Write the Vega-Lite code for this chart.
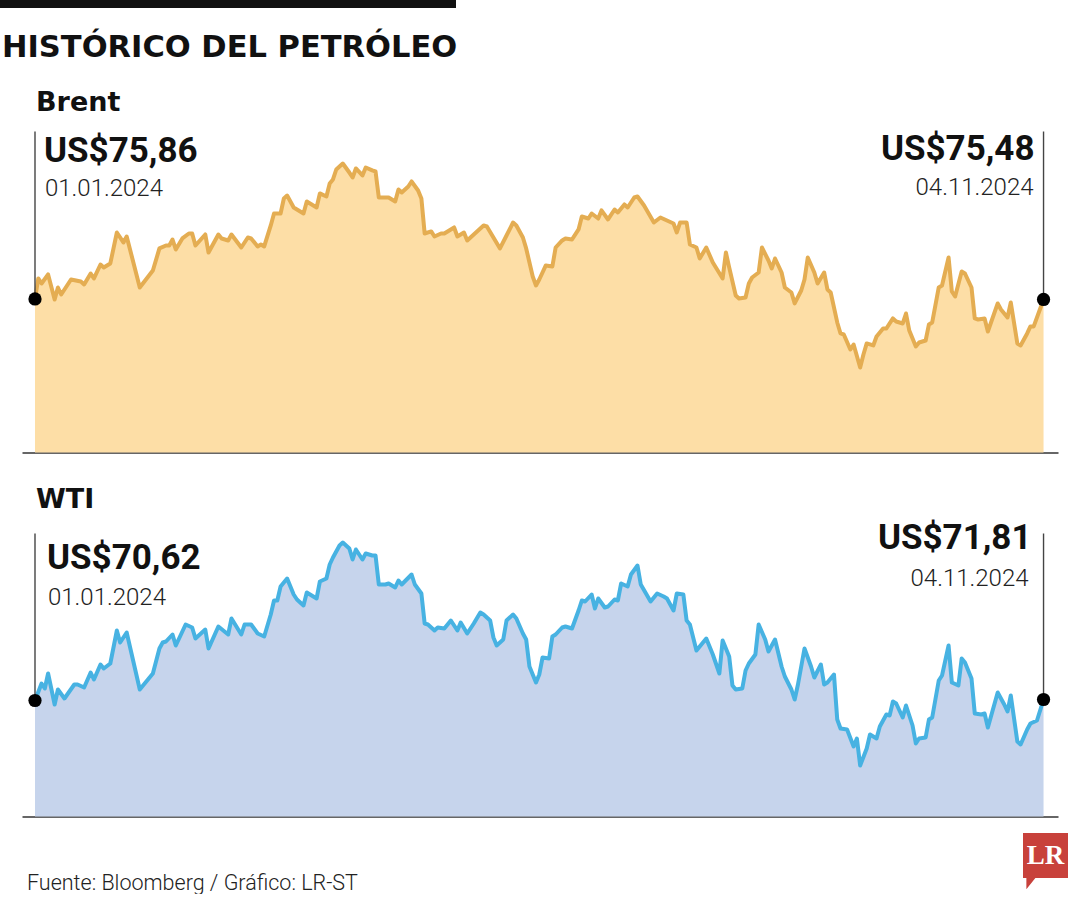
{
"$schema": "https://vega.github.io/schema/vega-lite/v6.json",
"padding": 0,
"background": "white",
"config": {"view": {"stroke": null}, "font": "Roboto"},
"datasets": {
"brent": [
{"fecha":"2024-01-01","precio":75.86},{"fecha":"2024-01-02","precio":78.02},{"fecha":"2024-01-03","precio":77.49},{"fecha":"2024-01-05","precio":78.44},{"fecha":"2024-01-07","precio":75.81},{"fecha":"2024-01-08","precio":77.07},{"fecha":"2024-01-09","precio":76.33},{"fecha":"2024-01-12","precio":77.91},{"fecha":"2024-01-15","precio":77.70},{"fecha":"2024-01-16","precio":77.39},{"fecha":"2024-01-18","precio":78.54},{"fecha":"2024-01-19","precio":78.02},{"fecha":"2024-01-21","precio":79.49},{"fecha":"2024-01-22","precio":79.18},{"fecha":"2024-01-24","precio":79.60},{"fecha":"2024-01-26","precio":82.86},{"fecha":"2024-01-28","precio":81.81},{"fecha":"2024-01-29","precio":82.44},
{"fecha":"2024-02-02","precio":77.07},{"fecha":"2024-02-06","precio":78.86},{"fecha":"2024-02-08","precio":81.18},{"fecha":"2024-02-10","precio":81.49},{"fecha":"2024-02-11","precio":81.49},{"fecha":"2024-02-12","precio":82.12},{"fecha":"2024-02-13","precio":81.07},{"fecha":"2024-02-15","precio":82.23},{"fecha":"2024-02-17","precio":82.75},{"fecha":"2024-02-18","precio":82.75},{"fecha":"2024-02-19","precio":81.49},{"fecha":"2024-02-22","precio":82.65},{"fecha":"2024-02-23","precio":80.75},{"fecha":"2024-02-26","precio":82.65},{"fecha":"2024-02-27","precio":82.23},{"fecha":"2024-02-29","precio":82.02},
{"fecha":"2024-03-01","precio":82.65},{"fecha":"2024-03-04","precio":81.28},{"fecha":"2024-03-06","precio":82.33},{"fecha":"2024-03-07","precio":82.23},{"fecha":"2024-03-09","precio":81.39},{"fecha":"2024-03-10","precio":81.60},{"fecha":"2024-03-11","precio":81.39},{"fecha":"2024-03-13","precio":83.60},{"fecha":"2024-03-14","precio":84.86},{"fecha":"2024-03-16","precio":84.86},{"fecha":"2024-03-17","precio":86.44},{"fecha":"2024-03-18","precio":86.75},{"fecha":"2024-03-20","precio":85.49},{"fecha":"2024-03-21","precio":85.28},{"fecha":"2024-03-23","precio":84.86},{"fecha":"2024-03-24","precio":86.12},{"fecha":"2024-03-27","precio":85.49},{"fecha":"2024-03-28","precio":86.97},{"fecha":"2024-03-30","precio":86.65},{"fecha":"2024-03-31","precio":88.02},
{"fecha":"2024-04-01","precio":88.44},{"fecha":"2024-04-02","precio":89.49},{"fecha":"2024-04-04","precio":90.12},{"fecha":"2024-04-06","precio":89.17},{"fecha":"2024-04-07","precio":88.65},{"fecha":"2024-04-08","precio":89.60},{"fecha":"2024-04-10","precio":88.86},{"fecha":"2024-04-11","precio":89.70},{"fecha":"2024-04-13","precio":89.39},{"fecha":"2024-04-14","precio":89.28},{"fecha":"2024-04-15","precio":86.54},{"fecha":"2024-04-17","precio":86.54},{"fecha":"2024-04-18","precio":86.54},{"fecha":"2024-04-20","precio":86.12},{"fecha":"2024-04-21","precio":87.39},{"fecha":"2024-04-22","precio":87.07},{"fecha":"2024-04-24","precio":87.70},{"fecha":"2024-04-25","precio":88.23},{"fecha":"2024-04-27","precio":87.28},{"fecha":"2024-04-28","precio":86.44},{"fecha":"2024-04-29","precio":82.75},
{"fecha":"2024-05-01","precio":82.97},{"fecha":"2024-05-02","precio":82.44},{"fecha":"2024-05-04","precio":82.75},{"fecha":"2024-05-05","precio":82.75},{"fecha":"2024-05-08","precio":83.39},{"fecha":"2024-05-09","precio":82.44},{"fecha":"2024-05-11","precio":82.86},{"fecha":"2024-05-12","precio":82.02},{"fecha":"2024-05-14","precio":82.65},{"fecha":"2024-05-17","precio":83.60},{"fecha":"2024-05-18","precio":83.49},{"fecha":"2024-05-20","precio":82.33},{"fecha":"2024-05-22","precio":81.18},{"fecha":"2024-05-24","precio":82.54},{"fecha":"2024-05-26","precio":83.91},{"fecha":"2024-05-27","precio":83.60},{"fecha":"2024-05-29","precio":82.33},{"fecha":"2024-05-30","precio":81.18},
{"fecha":"2024-06-01","precio":78.23},{"fecha":"2024-06-02","precio":77.28},{"fecha":"2024-06-03","precio":77.91},{"fecha":"2024-06-05","precio":79.39},{"fecha":"2024-06-07","precio":79.28},{"fecha":"2024-06-08","precio":81.28},{"fecha":"2024-06-10","precio":82.02},{"fecha":"2024-06-11","precio":82.23},{"fecha":"2024-06-13","precio":82.12},{"fecha":"2024-06-15","precio":83.18},{"fecha":"2024-06-16","precio":84.54},{"fecha":"2024-06-18","precio":84.33},{"fecha":"2024-06-19","precio":84.86},{"fecha":"2024-06-21","precio":84.33},{"fecha":"2024-06-22","precio":85.18},{"fecha":"2024-06-24","precio":84.23},{"fecha":"2024-06-26","precio":85.28},{"fecha":"2024-06-27","precio":84.97},{"fecha":"2024-06-29","precio":85.81},{"fecha":"2024-06-30","precio":85.49},
{"fecha":"2024-07-02","precio":86.54},{"fecha":"2024-07-03","precio":86.65},{"fecha":"2024-07-05","precio":85.70},{"fecha":"2024-07-08","precio":83.91},{"fecha":"2024-07-10","precio":84.44},{"fecha":"2024-07-12","precio":84.12},{"fecha":"2024-07-14","precio":83.81},{"fecha":"2024-07-15","precio":82.86},{"fecha":"2024-07-16","precio":83.91},{"fecha":"2024-07-18","precio":83.91},{"fecha":"2024-07-19","precio":81.60},{"fecha":"2024-07-21","precio":81.28},{"fecha":"2024-07-22","precio":80.12},{"fecha":"2024-07-24","precio":81.28},{"fecha":"2024-07-26","precio":79.70},{"fecha":"2024-07-29","precio":78.02},{"fecha":"2024-07-30","precio":80.75},{"fecha":"2024-07-31","precio":79.18},
{"fecha":"2024-08-02","precio":76.23},{"fecha":"2024-08-03","precio":75.91},{"fecha":"2024-08-05","precio":76.02},{"fecha":"2024-08-06","precio":77.49},{"fecha":"2024-08-07","precio":78.12},{"fecha":"2024-08-09","precio":78.65},{"fecha":"2024-08-10","precio":81.28},{"fecha":"2024-08-12","precio":79.91},{"fecha":"2024-08-13","precio":79.07},{"fecha":"2024-08-14","precio":80.12},{"fecha":"2024-08-16","precio":78.65},{"fecha":"2024-08-17","precio":77.07},{"fecha":"2024-08-19","precio":76.54},{"fecha":"2024-08-20","precio":75.39},{"fecha":"2024-08-22","precio":76.75},{"fecha":"2024-08-23","precio":77.91},{"fecha":"2024-08-24","precio":80.23},{"fecha":"2024-08-26","precio":78.65},{"fecha":"2024-08-27","precio":77.49},{"fecha":"2024-08-29","precio":78.65},{"fecha":"2024-08-30","precio":76.86},{"fecha":"2024-08-31","precio":76.54},
{"fecha":"2024-09-02","precio":73.39},{"fecha":"2024-09-03","precio":72.23},{"fecha":"2024-09-04","precio":72.12},{"fecha":"2024-09-06","precio":70.54},{"fecha":"2024-09-07","precio":71.07},{"fecha":"2024-09-09","precio":68.65},{"fecha":"2024-09-10","precio":70.02},{"fecha":"2024-09-11","precio":71.18},{"fecha":"2024-09-13","precio":70.97},{"fecha":"2024-09-14","precio":71.91},{"fecha":"2024-09-16","precio":72.75},{"fecha":"2024-09-17","precio":72.75},{"fecha":"2024-09-19","precio":73.81},{"fecha":"2024-09-20","precio":73.49},{"fecha":"2024-09-22","precio":73.28},{"fecha":"2024-09-23","precio":74.33},{"fecha":"2024-09-24","precio":72.54},{"fecha":"2024-09-26","precio":70.86},{"fecha":"2024-09-27","precio":71.28},{"fecha":"2024-09-29","precio":71.49},{"fecha":"2024-09-30","precio":73.18},
{"fecha":"2024-10-01","precio":73.39},{"fecha":"2024-10-03","precio":77.07},{"fecha":"2024-10-04","precio":77.28},{"fecha":"2024-10-06","precio":80.23},{"fecha":"2024-10-07","precio":76.65},{"fecha":"2024-10-08","precio":76.12},{"fecha":"2024-10-10","precio":78.75},{"fecha":"2024-10-11","precio":78.54},{"fecha":"2024-10-13","precio":77.07},{"fecha":"2024-10-14","precio":73.81},{"fecha":"2024-10-15","precio":73.70},{"fecha":"2024-10-17","precio":73.81},{"fecha":"2024-10-18","precio":72.44},{"fecha":"2024-10-21","precio":75.39},{"fecha":"2024-10-22","precio":74.75},{"fecha":"2024-10-24","precio":73.91},{"fecha":"2024-10-25","precio":75.49},{"fecha":"2024-10-27","precio":71.18},{"fecha":"2024-10-28","precio":70.97},{"fecha":"2024-10-30","precio":72.23},{"fecha":"2024-10-31","precio":72.97},{"fecha":"2024-11-01","precio":72.97},{"fecha":"2024-11-04","precio":75.81}
],
"wti": [
{"fecha":"2024-01-01","precio":70.57},{"fecha":"2024-01-03","precio":72.27},{"fecha":"2024-01-04","precio":71.77},{"fecha":"2024-01-05","precio":73.27},{"fecha":"2024-01-07","precio":70.17},{"fecha":"2024-01-08","precio":71.67},{"fecha":"2024-01-10","precio":70.77},{"fecha":"2024-01-13","precio":72.17},{"fecha":"2024-01-14","precio":72.17},{"fecha":"2024-01-16","precio":71.87},{"fecha":"2024-01-18","precio":73.37},{"fecha":"2024-01-19","precio":72.67},{"fecha":"2024-01-21","precio":74.17},{"fecha":"2024-01-22","precio":73.77},{"fecha":"2024-01-24","precio":74.27},{"fecha":"2024-01-26","precio":77.57},{"fecha":"2024-01-27","precio":76.37},{"fecha":"2024-01-29","precio":77.37},
{"fecha":"2024-02-02","precio":71.67},{"fecha":"2024-02-06","precio":73.27},{"fecha":"2024-02-08","precio":75.77},{"fecha":"2024-02-09","precio":76.37},{"fecha":"2024-02-10","precio":76.47},{"fecha":"2024-02-12","precio":77.17},{"fecha":"2024-02-13","precio":76.07},{"fecha":"2024-02-16","precio":78.17},{"fecha":"2024-02-18","precio":77.87},{"fecha":"2024-02-19","precio":76.77},{"fecha":"2024-02-22","precio":77.67},{"fecha":"2024-02-23","precio":75.77},{"fecha":"2024-02-26","precio":77.97},{"fecha":"2024-02-29","precio":77.17},
{"fecha":"2024-03-01","precio":78.77},{"fecha":"2024-03-04","precio":77.17},{"fecha":"2024-03-05","precio":78.17},{"fecha":"2024-03-07","precio":78.17},{"fecha":"2024-03-09","precio":77.27},{"fecha":"2024-03-11","precio":76.97},{"fecha":"2024-03-13","precio":79.17},{"fecha":"2024-03-14","precio":80.57},{"fecha":"2024-03-15","precio":80.57},{"fecha":"2024-03-16","precio":81.97},{"fecha":"2024-03-18","precio":82.77},{"fecha":"2024-03-20","precio":81.17},{"fecha":"2024-03-21","precio":80.67},{"fecha":"2024-03-23","precio":80.07},{"fecha":"2024-03-24","precio":81.37},{"fecha":"2024-03-27","precio":80.77},{"fecha":"2024-03-28","precio":82.47},{"fecha":"2024-03-30","precio":82.77},{"fecha":"2024-03-31","precio":84.17},
{"fecha":"2024-04-01","precio":84.87},{"fecha":"2024-04-03","precio":86.07},{"fecha":"2024-04-04","precio":86.37},{"fecha":"2024-04-06","precio":85.77},{"fecha":"2024-04-07","precio":84.67},{"fecha":"2024-04-08","precio":85.67},{"fecha":"2024-04-10","precio":84.67},{"fecha":"2024-04-11","precio":85.27},{"fecha":"2024-04-13","precio":85.07},{"fecha":"2024-04-14","precio":85.07},{"fecha":"2024-04-15","precio":82.17},{"fecha":"2024-04-17","precio":82.17},{"fecha":"2024-04-18","precio":82.27},{"fecha":"2024-04-20","precio":81.87},{"fecha":"2024-04-21","precio":82.57},{"fecha":"2024-04-22","precio":82.17},{"fecha":"2024-04-25","precio":83.17},{"fecha":"2024-04-26","precio":82.17},{"fecha":"2024-04-28","precio":81.27},{"fecha":"2024-04-29","precio":78.27},{"fecha":"2024-04-30","precio":78.17},
{"fecha":"2024-05-02","precio":77.57},{"fecha":"2024-05-03","precio":77.87},{"fecha":"2024-05-05","precio":77.77},{"fecha":"2024-05-06","precio":78.17},{"fecha":"2024-05-07","precio":78.57},{"fecha":"2024-05-09","precio":77.57},{"fecha":"2024-05-10","precio":78.37},{"fecha":"2024-05-12","precio":77.27},{"fecha":"2024-05-14","precio":78.27},{"fecha":"2024-05-16","precio":79.37},{"fecha":"2024-05-17","precio":79.17},{"fecha":"2024-05-19","precio":78.57},{"fecha":"2024-05-20","precio":76.87},{"fecha":"2024-05-21","precio":76.07},{"fecha":"2024-05-23","precio":76.67},{"fecha":"2024-05-24","precio":78.57},{"fecha":"2024-05-26","precio":79.17},{"fecha":"2024-05-27","precio":78.77},{"fecha":"2024-05-29","precio":77.27},{"fecha":"2024-05-30","precio":76.67},{"fecha":"2024-05-31","precio":73.97},
{"fecha":"2024-06-02","precio":72.37},{"fecha":"2024-06-03","precio":73.17},{"fecha":"2024-06-04","precio":74.87},{"fecha":"2024-06-06","precio":74.77},{"fecha":"2024-06-07","precio":76.97},{"fecha":"2024-06-08","precio":77.17},{"fecha":"2024-06-10","precio":77.87},{"fecha":"2024-06-11","precio":77.97},{"fecha":"2024-06-13","precio":77.77},{"fecha":"2024-06-15","precio":79.57},{"fecha":"2024-06-16","precio":80.57},{"fecha":"2024-06-17","precio":80.47},{"fecha":"2024-06-19","precio":81.17},{"fecha":"2024-06-20","precio":79.77},{"fecha":"2024-06-21","precio":80.77},{"fecha":"2024-06-23","precio":79.87},{"fecha":"2024-06-24","precio":79.97},{"fecha":"2024-06-26","precio":80.67},{"fecha":"2024-06-27","precio":80.57},{"fecha":"2024-06-28","precio":82.27},{"fecha":"2024-06-30","precio":81.97},
{"fecha":"2024-07-01","precio":83.17},{"fecha":"2024-07-03","precio":84.07},{"fecha":"2024-07-04","precio":82.17},{"fecha":"2024-07-07","precio":80.47},{"fecha":"2024-07-09","precio":81.27},{"fecha":"2024-07-11","precio":80.97},{"fecha":"2024-07-12","precio":80.77},{"fecha":"2024-07-14","precio":79.57},{"fecha":"2024-07-15","precio":81.27},{"fecha":"2024-07-17","precio":81.17},{"fecha":"2024-07-18","precio":78.57},{"fecha":"2024-07-19","precio":78.17},{"fecha":"2024-07-21","precio":75.57},{"fecha":"2024-07-24","precio":76.77},{"fecha":"2024-07-26","precio":75.17},{"fecha":"2024-07-28","precio":73.27},{"fecha":"2024-07-29","precio":76.57},{"fecha":"2024-07-31","precio":74.97},
{"fecha":"2024-08-01","precio":72.07},{"fecha":"2024-08-02","precio":71.67},{"fecha":"2024-08-04","precio":71.77},{"fecha":"2024-08-05","precio":73.57},{"fecha":"2024-08-06","precio":74.27},{"fecha":"2024-08-08","precio":75.17},{"fecha":"2024-08-09","precio":78.17},{"fecha":"2024-08-11","precio":76.67},{"fecha":"2024-08-12","precio":75.47},{"fecha":"2024-08-14","precio":76.67},{"fecha":"2024-08-16","precio":73.97},{"fecha":"2024-08-17","precio":72.97},{"fecha":"2024-08-19","precio":71.67},{"fecha":"2024-08-20","precio":70.67},{"fecha":"2024-08-21","precio":72.17},{"fecha":"2024-08-23","precio":75.77},{"fecha":"2024-08-25","precio":73.97},{"fecha":"2024-08-26","precio":72.87},{"fecha":"2024-08-28","precio":74.17},{"fecha":"2024-08-29","precio":72.17},{"fecha":"2024-08-30","precio":72.37},
{"fecha":"2024-09-01","precio":73.17},{"fecha":"2024-09-02","precio":68.67},{"fecha":"2024-09-03","precio":67.77},{"fecha":"2024-09-05","precio":67.67},{"fecha":"2024-09-07","precio":65.97},{"fecha":"2024-09-08","precio":66.77},{"fecha":"2024-09-09","precio":64.07},{"fecha":"2024-09-11","precio":65.77},{"fecha":"2024-09-12","precio":67.17},{"fecha":"2024-09-14","precio":66.77},{"fecha":"2024-09-15","precio":67.97},{"fecha":"2024-09-17","precio":69.17},{"fecha":"2024-09-18","precio":69.07},{"fecha":"2024-09-19","precio":70.47},{"fecha":"2024-09-20","precio":70.27},{"fecha":"2024-09-22","precio":68.87},{"fecha":"2024-09-23","precio":70.07},{"fecha":"2024-09-25","precio":68.07},{"fecha":"2024-09-26","precio":66.27},{"fecha":"2024-09-27","precio":66.77},{"fecha":"2024-09-29","precio":66.87},{"fecha":"2024-09-30","precio":68.67},
{"fecha":"2024-10-01","precio":68.87},{"fecha":"2024-10-03","precio":72.57},{"fecha":"2024-10-04","precio":73.07},{"fecha":"2024-10-06","precio":76.07},{"fecha":"2024-10-07","precio":72.37},{"fecha":"2024-10-09","precio":72.07},{"fecha":"2024-10-10","precio":74.77},{"fecha":"2024-10-11","precio":74.37},{"fecha":"2024-10-13","precio":72.77},{"fecha":"2024-10-14","precio":69.27},{"fecha":"2024-10-16","precio":69.17},{"fecha":"2024-10-17","precio":69.27},{"fecha":"2024-10-18","precio":67.87},{"fecha":"2024-10-21","precio":71.37},{"fecha":"2024-10-23","precio":70.17},{"fecha":"2024-10-24","precio":69.47},{"fecha":"2024-10-25","precio":71.07},{"fecha":"2024-10-27","precio":66.47},{"fecha":"2024-10-28","precio":66.17},{"fecha":"2024-10-30","precio":67.67},{"fecha":"2024-10-31","precio":68.27},{"fecha":"2024-11-02","precio":68.57},{"fecha":"2024-11-04","precio":70.67}
],
"anot_brent": [
{"fecha":"2024-01-01","precio":75.86,"valor":"US$75,86","dia":"01.01.2024","lado":"ini"},
{"fecha":"2024-11-04","precio":75.81,"valor":"US$75,48","dia":"04.11.2024","lado":"fin"}
],
"anot_wti": [
{"fecha":"2024-01-01","precio":70.57,"valor":"US$70,62","dia":"01.01.2024","lado":"ini"},
{"fecha":"2024-11-04","precio":70.67,"valor":"US$71,81","dia":"04.11.2024","lado":"fin"}
],
"pie": [
{"lado":"izq","texto":"Fuente: Bloomberg / Gráfico: LR-ST"},
{"lado":"der","texto":"LR"}
]
},
"spacing": 24.5,
"vconcat": [
{
"width": 434, "height": 8,
"view": {"fill": "#111111", "stroke": null},
"title": {"text": "HISTÓRICO DEL PETRÓLEO", "orient": "bottom", "anchor": "start", "frame": "group", "font": "DejaVu Sans", "fontSize": 30.5, "fontWeight": 700, "color": "#111111", "offset": 20, "dx": -20},
"data": {"values": [{}]},
"mark": {"type": "text", "text": ""},
"encoding": {"y": {"datum": 0, "type": "quantitative", "scale": {"domain": [0, 1]}, "axis": {"domain": true, "domainColor": "#111111", "domainWidth": 44, "domainCap": "butt", "translate": 0, "labels": false, "ticks": false, "grid": false, "title": null, "minExtent": 22, "maxExtent": 22}}}
},
{
"spacing": 33,
"vconcat": [
{
"width": 1036, "height": 321,
"title": {"text": "Brent", "anchor": "start", "frame": "group", "font": "DejaVu Sans", "fontSize": 27, "fontWeight": 700, "color": "#111111", "offset": 14, "dx": 14},
"data": {"name": "brent"},
"encoding": {
"x": {"field": "fecha", "type": "temporal", "axis": {"domain": true, "domainColor": "#333333", "domainWidth": 1.5, "labels": false, "ticks": false, "grid": false, "title": null}, "scale": {"domain": [{"year": 2023, "month": 12, "date": 28, "hours": 0, "minutes": 45}, {"year": 2024, "month": 11, "date": 8, "hours": 10, "minutes": 0}]}},
"y": {"field": "precio", "type": "quantitative", "axis": {"domain": false, "labels": false, "ticks": false, "grid": false, "title": null, "minExtent": 22, "maxExtent": 22}, "scale": {"domain": [59.7, 93.49], "nice": false, "zero": false}}
},
"layer": [
{"mark": {"type": "area", "color": "#FDDEA6", "opacity": 1}, "encoding": {"y2": {"datum": 59.7}}},
{"mark": {"type": "line", "color": "#E4AD52", "strokeWidth": 4, "strokeJoin": "round", "strokeCap": "round"}, "encoding": {}},
{"data": {"name": "anot_brent"}, "mark": {"type": "rule", "color": "#444444", "strokeWidth": 1.4}, "encoding": {"y2": {"datum": 93.49}}},
{"data": {"name": "anot_brent"}, "mark": {"type": "circle", "color": "#000000", "size": 175, "opacity": 1}, "encoding": {}},
{"data": {"name": "anot_brent"}, "transform": [{"filter": "datum.lado == 'ini'"}], "mark": {"type": "text", "align": "left", "baseline": "alphabetic", "dx": 9, "dy": -136.5, "font": "Roboto", "fontWeight": "bold", "fontSize": 35, "color": "#111111"}, "encoding": {"text": {"field": "valor"}}},
{"data": {"name": "anot_brent"}, "transform": [{"filter": "datum.lado == 'ini'"}], "mark": {"type": "text", "align": "left", "baseline": "alphabetic", "dx": 10, "dy": -102.5, "font": "Roboto", "fontWeight": 300, "fontSize": 24, "color": "#222222"}, "encoding": {"text": {"field": "dia"}}},
{"data": {"name": "anot_brent"}, "transform": [{"filter": "datum.lado == 'fin'"}], "mark": {"type": "text", "align": "right", "baseline": "alphabetic", "dx": -9, "dy": -139, "font": "Roboto", "fontWeight": "bold", "fontSize": 35, "color": "#111111"}, "encoding": {"text": {"field": "valor"}}},
{"data": {"name": "anot_brent"}, "transform": [{"filter": "datum.lado == 'fin'"}], "mark": {"type": "text", "align": "right", "baseline": "alphabetic", "dx": -10, "dy": -104, "font": "Roboto", "fontWeight": 300, "fontSize": 24, "color": "#222222"}, "encoding": {"text": {"field": "dia"}}}
]
},
{
"spacing": 14,
"vconcat": [
{
"width": 1036, "height": 283,
"title": {"text": "WTI", "anchor": "start", "frame": "group", "font": "DejaVu Sans", "fontSize": 27, "fontWeight": 700, "color": "#111111", "offset": 7, "dx": 14},
"data": {"name": "wti"},
"encoding": {
"x": {"field": "fecha", "type": "temporal", "axis": {"domain": true, "domainColor": "#333333", "domainWidth": 1.5, "labels": false, "ticks": false, "grid": false, "title": null}, "scale": {"domain": [{"year": 2023, "month": 12, "date": 28, "hours": 0, "minutes": 45}, {"year": 2024, "month": 11, "date": 8, "hours": 10, "minutes": 0}]}},
"y": {"field": "precio", "type": "quantitative", "axis": {"domain": false, "labels": false, "ticks": false, "grid": false, "title": null, "minExtent": 22, "maxExtent": 22}, "scale": {"domain": [58.97, 87.27], "nice": false, "zero": false}}
},
"layer": [
{"mark": {"type": "area", "color": "#C6D4EC", "opacity": 1}, "encoding": {"y2": {"datum": 58.97}}},
{"mark": {"type": "line", "color": "#47B2E2", "strokeWidth": 4, "strokeJoin": "round", "strokeCap": "round"}, "encoding": {}},
{"data": {"name": "anot_wti"}, "mark": {"type": "rule", "color": "#444444", "strokeWidth": 1.4}, "encoding": {"y2": {"datum": 87.27}}},
{"data": {"name": "anot_wti"}, "mark": {"type": "circle", "color": "#000000", "size": 175, "opacity": 1}, "encoding": {}},
{"data": {"name": "anot_wti"}, "transform": [{"filter": "datum.lado == 'ini'"}], "mark": {"type": "text", "align": "left", "baseline": "alphabetic", "dx": 12, "dy": -131.5, "font": "Roboto", "fontWeight": "bold", "fontSize": 35, "color": "#111111"}, "encoding": {"text": {"field": "valor"}}},
{"data": {"name": "anot_wti"}, "transform": [{"filter": "datum.lado == 'ini'"}], "mark": {"type": "text", "align": "left", "baseline": "alphabetic", "dx": 13, "dy": -95.5, "font": "Roboto", "fontWeight": 300, "fontSize": 24, "color": "#222222"}, "encoding": {"text": {"field": "dia"}}},
{"data": {"name": "anot_wti"}, "transform": [{"filter": "datum.lado == 'fin'"}], "mark": {"type": "text", "align": "right", "baseline": "alphabetic", "dx": -12, "dy": -150.5, "font": "Roboto", "fontWeight": "bold", "fontSize": 35, "color": "#111111"}, "encoding": {"text": {"field": "valor"}}},
{"data": {"name": "anot_wti"}, "transform": [{"filter": "datum.lado == 'fin'"}], "mark": {"type": "text", "align": "right", "baseline": "alphabetic", "dx": -15, "dy": -113.5, "font": "Roboto", "fontWeight": 300, "fontSize": 24, "color": "#222222"}, "encoding": {"text": {"field": "dia"}}}
]
},
{
"width": 1058, "height": 60,
"data": {"name": "pie"},
"encoding": {"x": {"field": "lado", "type": "nominal", "axis": null, "scale": {"type": "point", "domain": ["izq", "der"], "padding": 0}}},
"layer": [
{"transform": [{"filter": "datum.lado == 'izq'"}], "mark": {"type": "text", "align": "left", "baseline": "alphabetic", "dx": 5, "dy": 29, "font": "Roboto", "fontWeight": 300, "fontSize": 21.5, "color": "#222222"}, "encoding": {"text": {"field": "texto"}}},
{"transform": [{"filter": "datum.lado == 'der'"}], "mark": {"type": "point", "shape": "M-1,-1 L1,-1 L1,1 L-0.45,1 L-0.85,1.5 L-0.85,1 L-1,1 Z", "filled": true, "color": "#C8413B", "size": 2025, "opacity": 1, "xOffset": -34.5, "yOffset": -5}, "encoding": {}},
{"transform": [{"filter": "datum.lado == 'der'"}], "mark": {"type": "text", "align": "center", "baseline": "middle", "dx": -34.5, "dy": -5, "font": "Liberation Serif", "fontWeight": "bold", "fontSize": 27, "color": "#ffffff"}, "encoding": {"text": {"field": "texto"}}}
]
}
]
}
]
}
]
}
